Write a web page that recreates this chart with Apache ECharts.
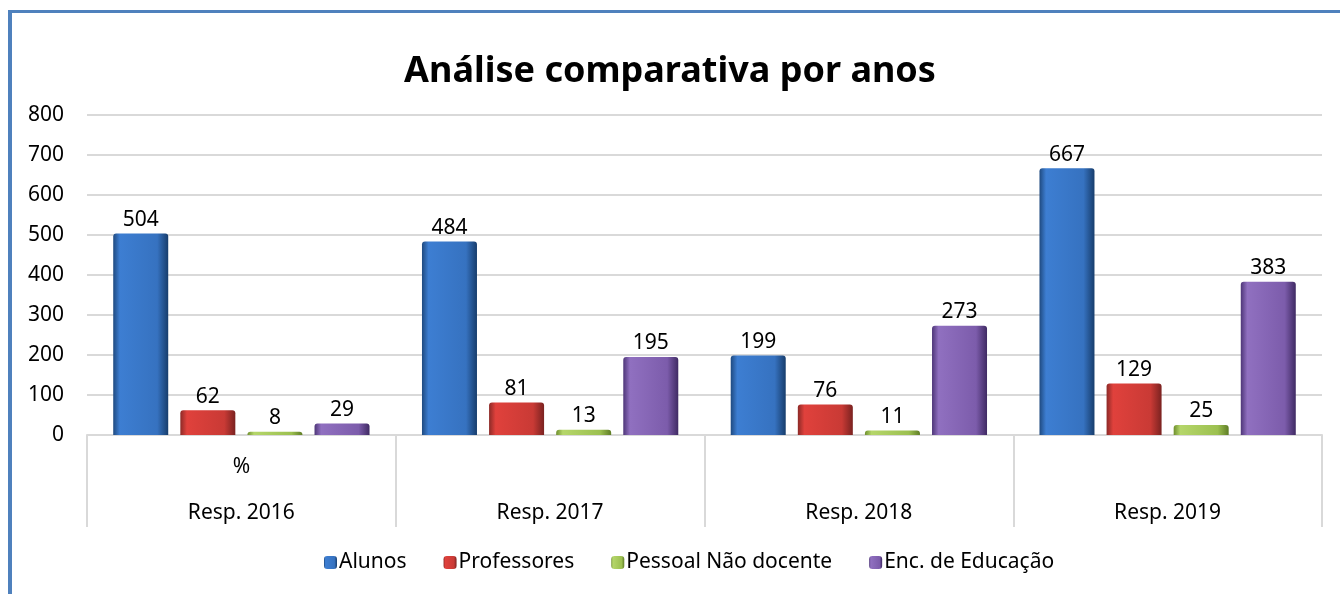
<!DOCTYPE html>
<html>
<head>
<meta charset="utf-8">
<script src="https://cdn.jsdelivr.net/npm/echarts@6/dist/echarts.min.js"></script>
<style>
  html, body { margin: 0; padding: 0; background: #fff; }
  #frame {
    position: absolute; left: 8px; top: 10px; width: 1332px; height: 584px;
    border-top: 3px solid #4f81bd; border-left: 4px solid #4f81bd;
    box-sizing: border-box;
  }
  #chart { position: absolute; left: 0; top: 0; width: 1340px; height: 594px; }
</style>
</head>
<body>
<div id="frame"></div>
<div id="chart"></div>
<script>
const categories = ['Resp. 2016', 'Resp. 2017', 'Resp. 2018', 'Resp. 2019'];
const subLabels = ['%', '', '', ''];
const seriesNames = ['Alunos', 'Professores', 'Pessoal Não docente', 'Enc. de Educação'];
const alunos = [504, 484, 199, 667];
const professores = [62, 81, 76, 129];
const naoDocente = [8, 13, 11, 25];
const encEducacao = [29, 195, 273, 383];
const yTicks = [0, 100, 200, 300, 400, 500, 600, 700, 800];

const font = 'Noto Sans';
const palette = [
  ['#1f4a80', '#3d7ed2', '#3672c0', '#173d6c'],
  ['#8c2a27', '#e0413c', '#c93a35', '#7a2220'],
  ['#6f8f2e', '#b5d66a', '#9cc050', '#5f7d26'],
  ['#4e3678', '#9070c0', '#7c5cab', '#3f2a63']
];
function grad(c) {
  return new echarts.graphic.LinearGradient(0, 0, 1, 0, [
    { offset: 0, color: c[0] },
    { offset: 0.12, color: c[1] },
    { offset: 0.8, color: c[2] },
    { offset: 1, color: c[3] }
  ]);
}
const values = [alunos, professores, naoDocente, encEducacao];

const chart = echarts.init(document.getElementById('chart'));
chart.setOption({
  animation: false,
  title: {
    text: 'Análise comparativa por anos',
    left: 'center', top: 49,
    textStyle: { fontFamily: font, fontWeight: 'bold', fontSize: 36, color: '#000' }
  },
  legend: {
    bottom: 16, left: 319,
    itemWidth: 13, itemHeight: 13, itemGap: 37,
    textStyle: { fontFamily: font, fontSize: 21, color: '#000', padding: [0, 0, 0, -3] },
    data: seriesNames.map((n, i) => ({ name: n, itemStyle: { color: grad(palette[i]) } }))
  },
  grid: { left: 87, right: 18, top: 115, height: 320 },
  xAxis: [{
    type: 'category', data: categories,
    axisLine: { lineStyle: { color: '#d9d9d9', width: 2 } },
    axisTick: { show: true, length: 92, interval: 0, lineStyle: { color: '#d9d9d9', width: 2 } },
    axisLabel: { margin: 68, fontFamily: font, fontSize: 21, color: '#000', interval: 0 }
  }, {
    type: 'category', data: subLabels, position: 'bottom',
    axisLine: { show: false }, axisTick: { show: false },
    axisLabel: { margin: 22, fontFamily: font, fontSize: 21, color: '#000', interval: 0 }
  }],
  yAxis: {
    type: 'value', min: 0, max: yTicks[yTicks.length - 1], interval: 100,
    axisLine: { show: false }, axisTick: { show: false },
    axisLabel: { margin: 23, fontFamily: font, fontSize: 21, color: '#000' },
    splitLine: { lineStyle: { color: '#d9d9d9', width: 2 } }
  },
  series: seriesNames.map((n, i) => ({
    name: n, type: 'bar', data: values[i],
    barWidth: 55, barGap: '22%',
    itemStyle: { color: grad(palette[i]), borderRadius: [3, 3, 0, 0] },
    label: {
      show: true, position: 'top', distance: 3,
      fontFamily: font, fontSize: 21, color: '#000'
    }
  }))
});
</script>
</body>
</html>
